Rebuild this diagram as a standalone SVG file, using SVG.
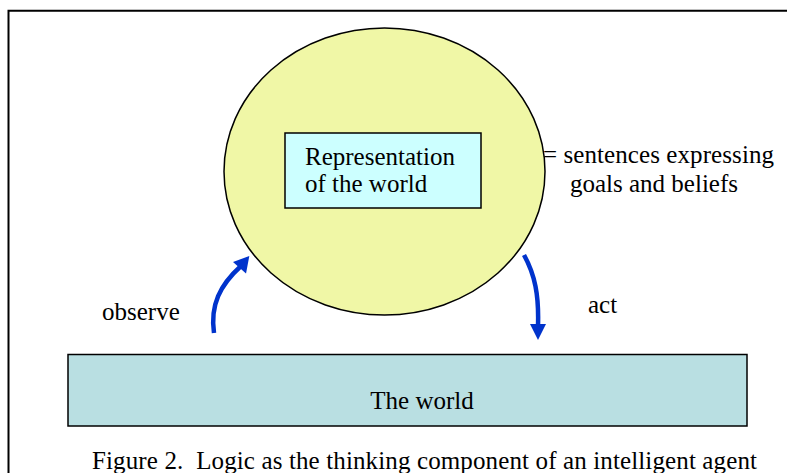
<svg xmlns="http://www.w3.org/2000/svg" width="787" height="473" viewBox="0 0 787 473">
<style>
text{font-family:"Liberation Serif","Times New Roman",serif;fill:#000;font-size:25px;white-space:pre}
.arrow{fill:none;stroke:#0033CC;stroke-width:4.5}
.head{fill:#0033CC}
</style>
<rect x="0" y="0" width="787" height="473" fill="#fff"/>
<path d="M8.5,480 V10.8 H800" fill="none" stroke="#000" stroke-width="2"/>
<g id="mind">
<ellipse cx="384.5" cy="171.5" rx="160.5" ry="143.5" fill="#F0F7A6" stroke="#000" stroke-width="1.5"/>
</g>
<g id="representation">
<rect x="285" y="133" width="196" height="75" fill="#CCFFFF" stroke="#000" stroke-width="1.5"/>
<text x="305" y="165" textLength="150">Representation</text>
<text x="305" y="192">of the world</text>
</g>
<g id="note">
<text x="543" y="163" textLength="231">= sentences expressing</text>
<text x="570" y="192">goals and beliefs</text>
</g>
<g id="world">
<rect x="68" y="354.5" width="679" height="71.5" fill="#B9DFE2" stroke="#000" stroke-width="1.5"/>
<text x="422" y="409" text-anchor="middle">The world</text>
</g>
<g id="connectors">
<path class="arrow" d="M214,333 C210,305 220,285 241,266"/>
<polygon class="head" points="249.3,256 233,262 246,273.5"/>
<path class="arrow" d="M524,255 C535,275 539,295 538,326"/>
<polygon class="head" points="538,340 530,324 546,324"/>
</g>
<text x="102" y="320">observe</text>
<text x="588" y="313">act</text>
<text x="92" y="469" textLength="665">Figure 2.  Logic as the thinking component of an intelligent agent</text>
</svg>
